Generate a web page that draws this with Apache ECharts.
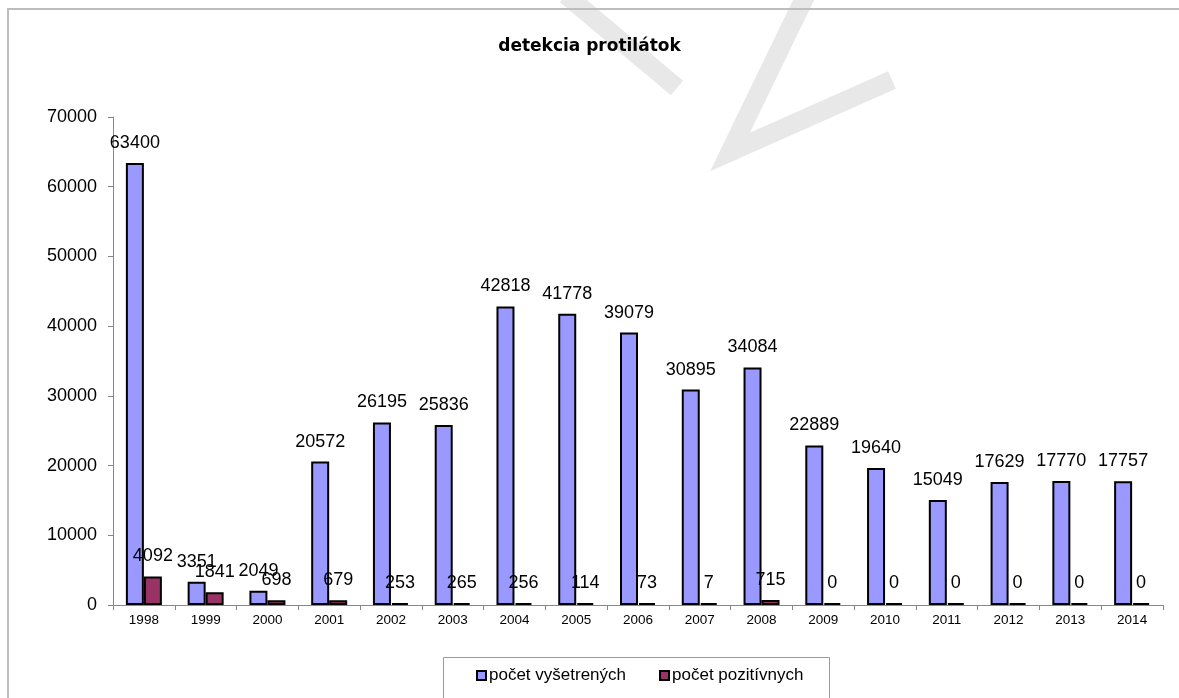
<!DOCTYPE html>
<html>
<head>
<meta charset="utf-8">
<script src="https://cdn.jsdelivr.net/npm/echarts@6/dist/echarts.min.js"></script>
<style>
html, body { margin: 0; padding: 0; background: #fff; }
#chart { width: 1179px; height: 698px; }
</style>
</head>
<body>
<div id="chart"></div>
<script>
const years = ['1998', '1999', '2000', '2001', '2002', '2003', '2004', '2005', '2006',
    '2007', '2008', '2009', '2010', '2011', '2012', '2013', '2014']
const examined = [63400, 3351, 2049, 20572, 26195, 25836, 42818, 41778, 39079,
    30895, 34084, 22889, 19640, 15049, 17629, 17770, 17757]
const positive = [4092, 1841, 698, 679, 253, 265, 256, 114, 73,
    7, 715, 0, 0, 0, 0, 0, 0]
const yTicks = [0, 10000, 20000, 30000, 40000, 50000, 60000, 70000]

const chart = echarts.init(document.getElementById('chart'))

const labelStyle = {
    show: true,
    position: 'top',
    distance: 11,
    fontFamily: 'Liberation Sans',
    fontSize: 18,
    color: '#000'
}

const option = {
    animation: false,
    textStyle: { fontFamily: 'Liberation Sans' },
    title: {
        text: 'detekcia protilátok',
        left: 'center',
        top: 33,
        textStyle: { fontFamily: 'DejaVu Sans', fontSize: 17, fontWeight: 'bold', color: '#000' }
    },
    graphic: [
        // watermark strokes
        { type: 'polyline', z: -1, shape: { points: [[566, -5], [677, 88]] },
          style: { stroke: '#e8e8e8', lineWidth: 19, fill: null } },
        { type: 'polyline', z: -1, shape: { points: [[806, -5], [730, 152], [892, 80]] },
          style: { stroke: '#e8e8e8', lineWidth: 19, fill: null } },
        // frame
        { type: 'polyline', shape: { points: [[8, 698], [8, 9], [1179, 9]] },
          style: { stroke: '#bdbdbd', lineWidth: 2, fill: null } },
        // legend box
        { type: 'rect', shape: { x: 443.5, y: 657.5, width: 386, height: 42 },
          style: { stroke: '#9a9a9a', lineWidth: 1, fill: '#fff' } }
    ],
    legend: {
        bottom: 9,
        left: 471,
        itemWidth: 9,
        itemHeight: 9,
        itemGap: 33,
        icon: 'rect',
        textStyle: { fontFamily: 'Liberation Sans', fontSize: 17, color: '#000', padding: [0, 0, 0, -2] },
        data: ['počet vyšetrených', 'počet pozitívnych']
    },
    grid: { left: 113, right: 16, top: 117, bottom: 93 },
    xAxis: {
        type: 'category',
        data: years,
        axisLine: { lineStyle: { color: '#888' } },
        axisTick: { show: true, length: 5, lineStyle: { color: '#888' } },
        axisLabel: { fontFamily: 'Liberation Sans', fontSize: 13.5, color: '#000', margin: 8 }
    },
    yAxis: {
        type: 'value',
        min: yTicks[0],
        max: yTicks[yTicks.length - 1],
        interval: 10000,
        axisLine: { show: true, lineStyle: { color: '#888' } },
        axisTick: { show: true, length: 5, lineStyle: { color: '#888' } },
        splitLine: { show: false },
        axisLabel: {
            fontFamily: 'Liberation Sans', fontSize: 18, color: '#000', margin: 16,
            formatter: v => String(v)
        }
    },
    series: [
        {
            name: 'počet vyšetrených',
            type: 'bar',
            data: examined,
            barWidth: 18,
            barGap: '0%',
            itemStyle: { color: '#9999ff', borderColor: '#000', borderWidth: 2 },
            label: labelStyle
        },
        {
            name: 'počet pozitívnych',
            type: 'bar',
            data: positive,
            barWidth: 18,
            barMinHeight: 2,
            itemStyle: { color: '#993366', borderColor: '#000', borderWidth: 2 },
            label: labelStyle
        }
    ]
}

chart.setOption(option)
</script>
</body>
</html>
